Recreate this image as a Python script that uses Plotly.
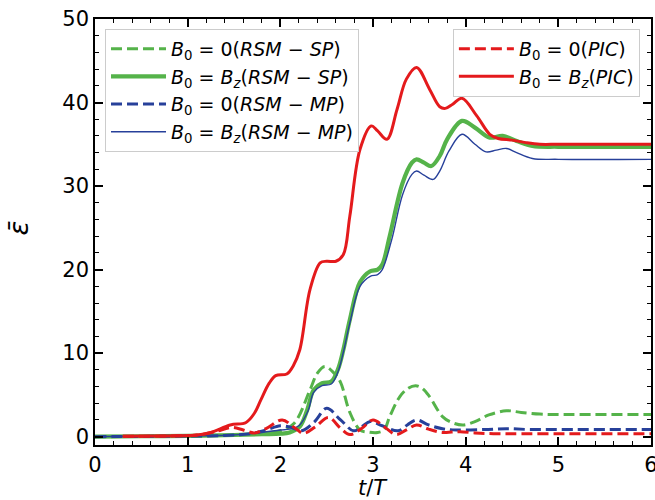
import plotly.graph_objects as go

# ---- data ----
t_sp0 = [0, 1.0, 1.5, 1.8, 2.0, 2.15, 2.32, 2.4, 2.48, 2.58, 2.65, 2.75, 2.86, 2.95, 3.05, 3.12, 3.18, 3.29, 3.38, 3.46, 3.53, 3.61, 3.75, 3.85, 3.97, 4.1, 4.25, 4.44, 4.6, 4.8, 5.0, 6.0]
e_sp0 = [0, 0.05, 0.2, 0.4, 0.7, 1.6, 5.6, 7.6, 8.4, 7.6, 6.5, 2.9, 0.8, 0.55, 0.5, 0.8, 2.4, 4.8, 5.8, 6.1, 5.8, 4.8, 2.4, 1.7, 1.4, 1.8, 2.6, 3.1, 2.9, 2.7, 2.65, 2.65]

t_spz = [0, 0.5, 1.0, 1.5, 1.8, 2.0, 2.1, 2.21, 2.29, 2.36, 2.45, 2.55, 2.62, 2.68, 2.75, 2.86, 2.97, 3.05, 3.1, 3.18, 3.32, 3.42, 3.47, 3.55, 3.63, 3.72, 3.8, 3.96, 4.1, 4.26, 4.4, 4.55, 4.72, 5.0, 5.5, 6.0]
e_spz = [0, 0.05, 0.1, 0.2, 0.3, 0.35, 0.5, 1.2, 3.2, 5.6, 6.4, 6.6, 8.0, 10.4, 14.0, 18.5, 19.8, 20.0, 20.6, 24.0, 30.4, 32.8, 33.2, 32.8, 32.4, 33.6, 35.6, 37.8, 37.0, 35.8, 36.0, 35.4, 34.8, 34.7, 34.7, 34.7]

t_mp0 = [0, 0.8, 1.4, 1.7, 1.85, 2.0, 2.12, 2.23, 2.37, 2.5, 2.65, 2.79, 2.88, 2.97, 3.1, 3.27, 3.37, 3.47, 3.6, 3.75, 3.9, 4.2, 4.44, 4.7, 5.0, 6.0]
e_mp0 = [0, 0.05, 0.15, 0.4, 0.8, 1.3, 1.1, 0.7, 1.8, 3.4, 2.0, 0.7, 1.2, 1.8, 1.3, 0.7, 1.4, 2.0, 1.4, 0.95, 0.8, 0.85, 0.95, 0.85, 0.85, 0.85]

t_mpz = [0, 0.5, 1.0, 1.5, 1.8, 2.0, 2.1, 2.2, 2.3, 2.36, 2.45, 2.55, 2.62, 2.68, 2.75, 2.86, 2.97, 3.05, 3.1, 3.2, 3.32, 3.42, 3.47, 3.55, 3.65, 3.72, 3.82, 3.96, 4.1, 4.22, 4.33, 4.44, 4.55, 4.72, 5.0, 6.0]
e_mpz = [0, 0.05, 0.1, 0.2, 0.5, 0.8, 0.9, 1.3, 3.1, 5.3, 6.1, 6.3, 7.7, 10.1, 13.6, 18.0, 19.2, 19.4, 20.0, 23.5, 29.0, 31.4, 31.8, 31.3, 30.8, 31.8, 34.2, 36.2, 35.0, 34.1, 34.3, 34.5, 34.0, 33.3, 33.2, 33.2]

t_pic0 = [0.3, 0.8, 1.1, 1.3, 1.47, 1.6, 1.72, 1.85, 2.02, 2.15, 2.25, 2.38, 2.52, 2.65, 2.75, 2.88, 3.0, 3.13, 3.25, 3.36, 3.47, 3.6, 3.75, 3.85, 3.94, 4.1, 4.3, 5.0, 6.0]
e_pic0 = [0.05, 0.08, 0.2, 0.6, 1.1, 0.8, 0.45, 1.0, 2.0, 1.1, 0.4, 1.2, 2.3, 1.0, 0.25, 1.0, 2.0, 1.1, 0.25, 0.8, 1.4, 0.9, 0.5, 0.55, 0.6, 0.45, 0.35, 0.35, 0.35]

t_picz = [0.3, 0.6, 0.9, 1.1, 1.25, 1.46, 1.63, 1.72, 1.79, 1.88, 1.95, 2.07, 2.14, 2.21, 2.32, 2.43, 2.5, 2.6, 2.68, 2.75, 2.86, 2.98, 3.05, 3.15, 3.26, 3.36, 3.47, 3.61, 3.72, 3.78, 3.86, 3.96, 4.12, 4.26, 4.35, 4.5, 4.65, 4.8, 5.0, 5.5, 6.0]
e_picz = [0.05, 0.08, 0.1, 0.2, 0.5, 1.4, 1.7, 2.8, 4.4, 6.4, 7.3, 7.5, 8.5, 10.4, 17.6, 20.8, 21.0, 21.0, 21.8, 26.4, 34.4, 37.2, 36.6, 35.6, 39.2, 42.8, 44.2, 41.6, 39.5, 39.3, 39.8, 40.5, 38.4, 36.2, 35.7, 35.5, 35.2, 35.0, 35.0, 35.0, 35.0]

x_ticks = [0, 1, 2, 3, 4, 5, 6]
y_ticks = [0, 10, 20, 30, 40, 50]

GREEN = '#55b34a'
BLUE = '#27409a'
RED = '#e41a1c'
DASH = '11px,5px'

def lab(rhs, tail):
    return '<i>B</i><sub>0</sub> = ' + rhs + '(<i>' + tail + '</i>)'

Bz = '<i>B<sub>z</sub></i>'

fig = go.Figure()
fig.add_trace(go.Scatter(x=t_sp0, y=e_sp0, mode='lines', line=dict(color=GREEN, width=3, dash=DASH, shape='spline'),
                         name=lab('0', 'RSM − SP'), legend='legend'))
fig.add_trace(go.Scatter(x=t_spz, y=e_spz, mode='lines', line=dict(color=GREEN, width=4.2, shape='spline'),
                         name=lab(Bz, 'RSM − SP'), legend='legend'))
fig.add_trace(go.Scatter(x=t_mp0, y=e_mp0, mode='lines', line=dict(color=BLUE, width=3, dash=DASH, shape='spline'),
                         name=lab('0', 'RSM − MP'), legend='legend'))
fig.add_trace(go.Scatter(x=t_mpz, y=e_mpz, mode='lines', line=dict(color=BLUE, width=1.4, shape='spline'),
                         name=lab(Bz, 'RSM − MP'), legend='legend'))
fig.add_trace(go.Scatter(x=t_pic0, y=e_pic0, mode='lines', line=dict(color=RED, width=3, dash=DASH, shape='spline'),
                         name=lab('0', 'PIC'), legend='legend2'))
fig.add_trace(go.Scatter(x=t_picz, y=e_picz, mode='lines', line=dict(color=RED, width=3, shape='spline'),
                         name=lab(Bz, 'PIC'), legend='legend2'))

FONT = 'DejaVu Sans'
axis_common = dict(showline=True, linecolor='black', linewidth=1.5, mirror='allticks',
                   ticks='inside', ticklen=8, tickwidth=1.5, tickcolor='black',
                   showgrid=False, zeroline=False, automargin=False, ticklabeloverflow='allow',
                   tickfont=dict(family=FONT, size=21, color='black'))

fig.update_xaxes(range=[0, 6], tickvals=x_ticks, ticktext=[str(v) for v in x_ticks],
                 minor=dict(ticks='inside', ticklen=4, tickwidth=1.2, tickcolor='black', dtick=0.2, showgrid=False),
                 **axis_common)
fig.update_yaxes(range=[-1, 50], tickvals=y_ticks, ticktext=[str(v) for v in y_ticks],
                 minor=dict(ticks='inside', ticklen=4, tickwidth=1.2, tickcolor='black', dtick=2, tick0=0, showgrid=False),
                 **axis_common)

legend_common = dict(bgcolor='white', bordercolor='#cccccc', borderwidth=1, itemwidth=55,
                     font=dict(family=FONT, size=19, color='black'), yanchor='top', tracegroupgap=0)
fig.update_layout(
    width=655, height=500,
    margin=dict(l=95, r=4, t=19, b=55, autoexpand=False),
    plot_bgcolor='white', paper_bgcolor='white',
    legend=dict(x=0.018, y=0.977, xanchor='left', **legend_common),
    legend2=dict(x=0.98, y=0.977, xanchor='right', **legend_common),
    annotations=[
        dict(text='<i>t</i>/<i>T</i>', xref='paper', yref='paper', x=0.5, y=-0.101,
             xanchor='center', yanchor='middle', showarrow=False,
             font=dict(family=FONT, size=21, color='black')),
        dict(text='<i>ε\u0304</i>', xref='paper', yref='paper', x=-0.137, y=0.51,
             xanchor='center', yanchor='middle', showarrow=False, textangle=-90,
             font=dict(family=FONT, size=27, color='black')),
    ],
)

fig.write_html('out.html', config={'displayModeBar': False},
               post_script="document.body.style.margin='0';document.body.style.padding='0';document.body.style.overflow='hidden';")
